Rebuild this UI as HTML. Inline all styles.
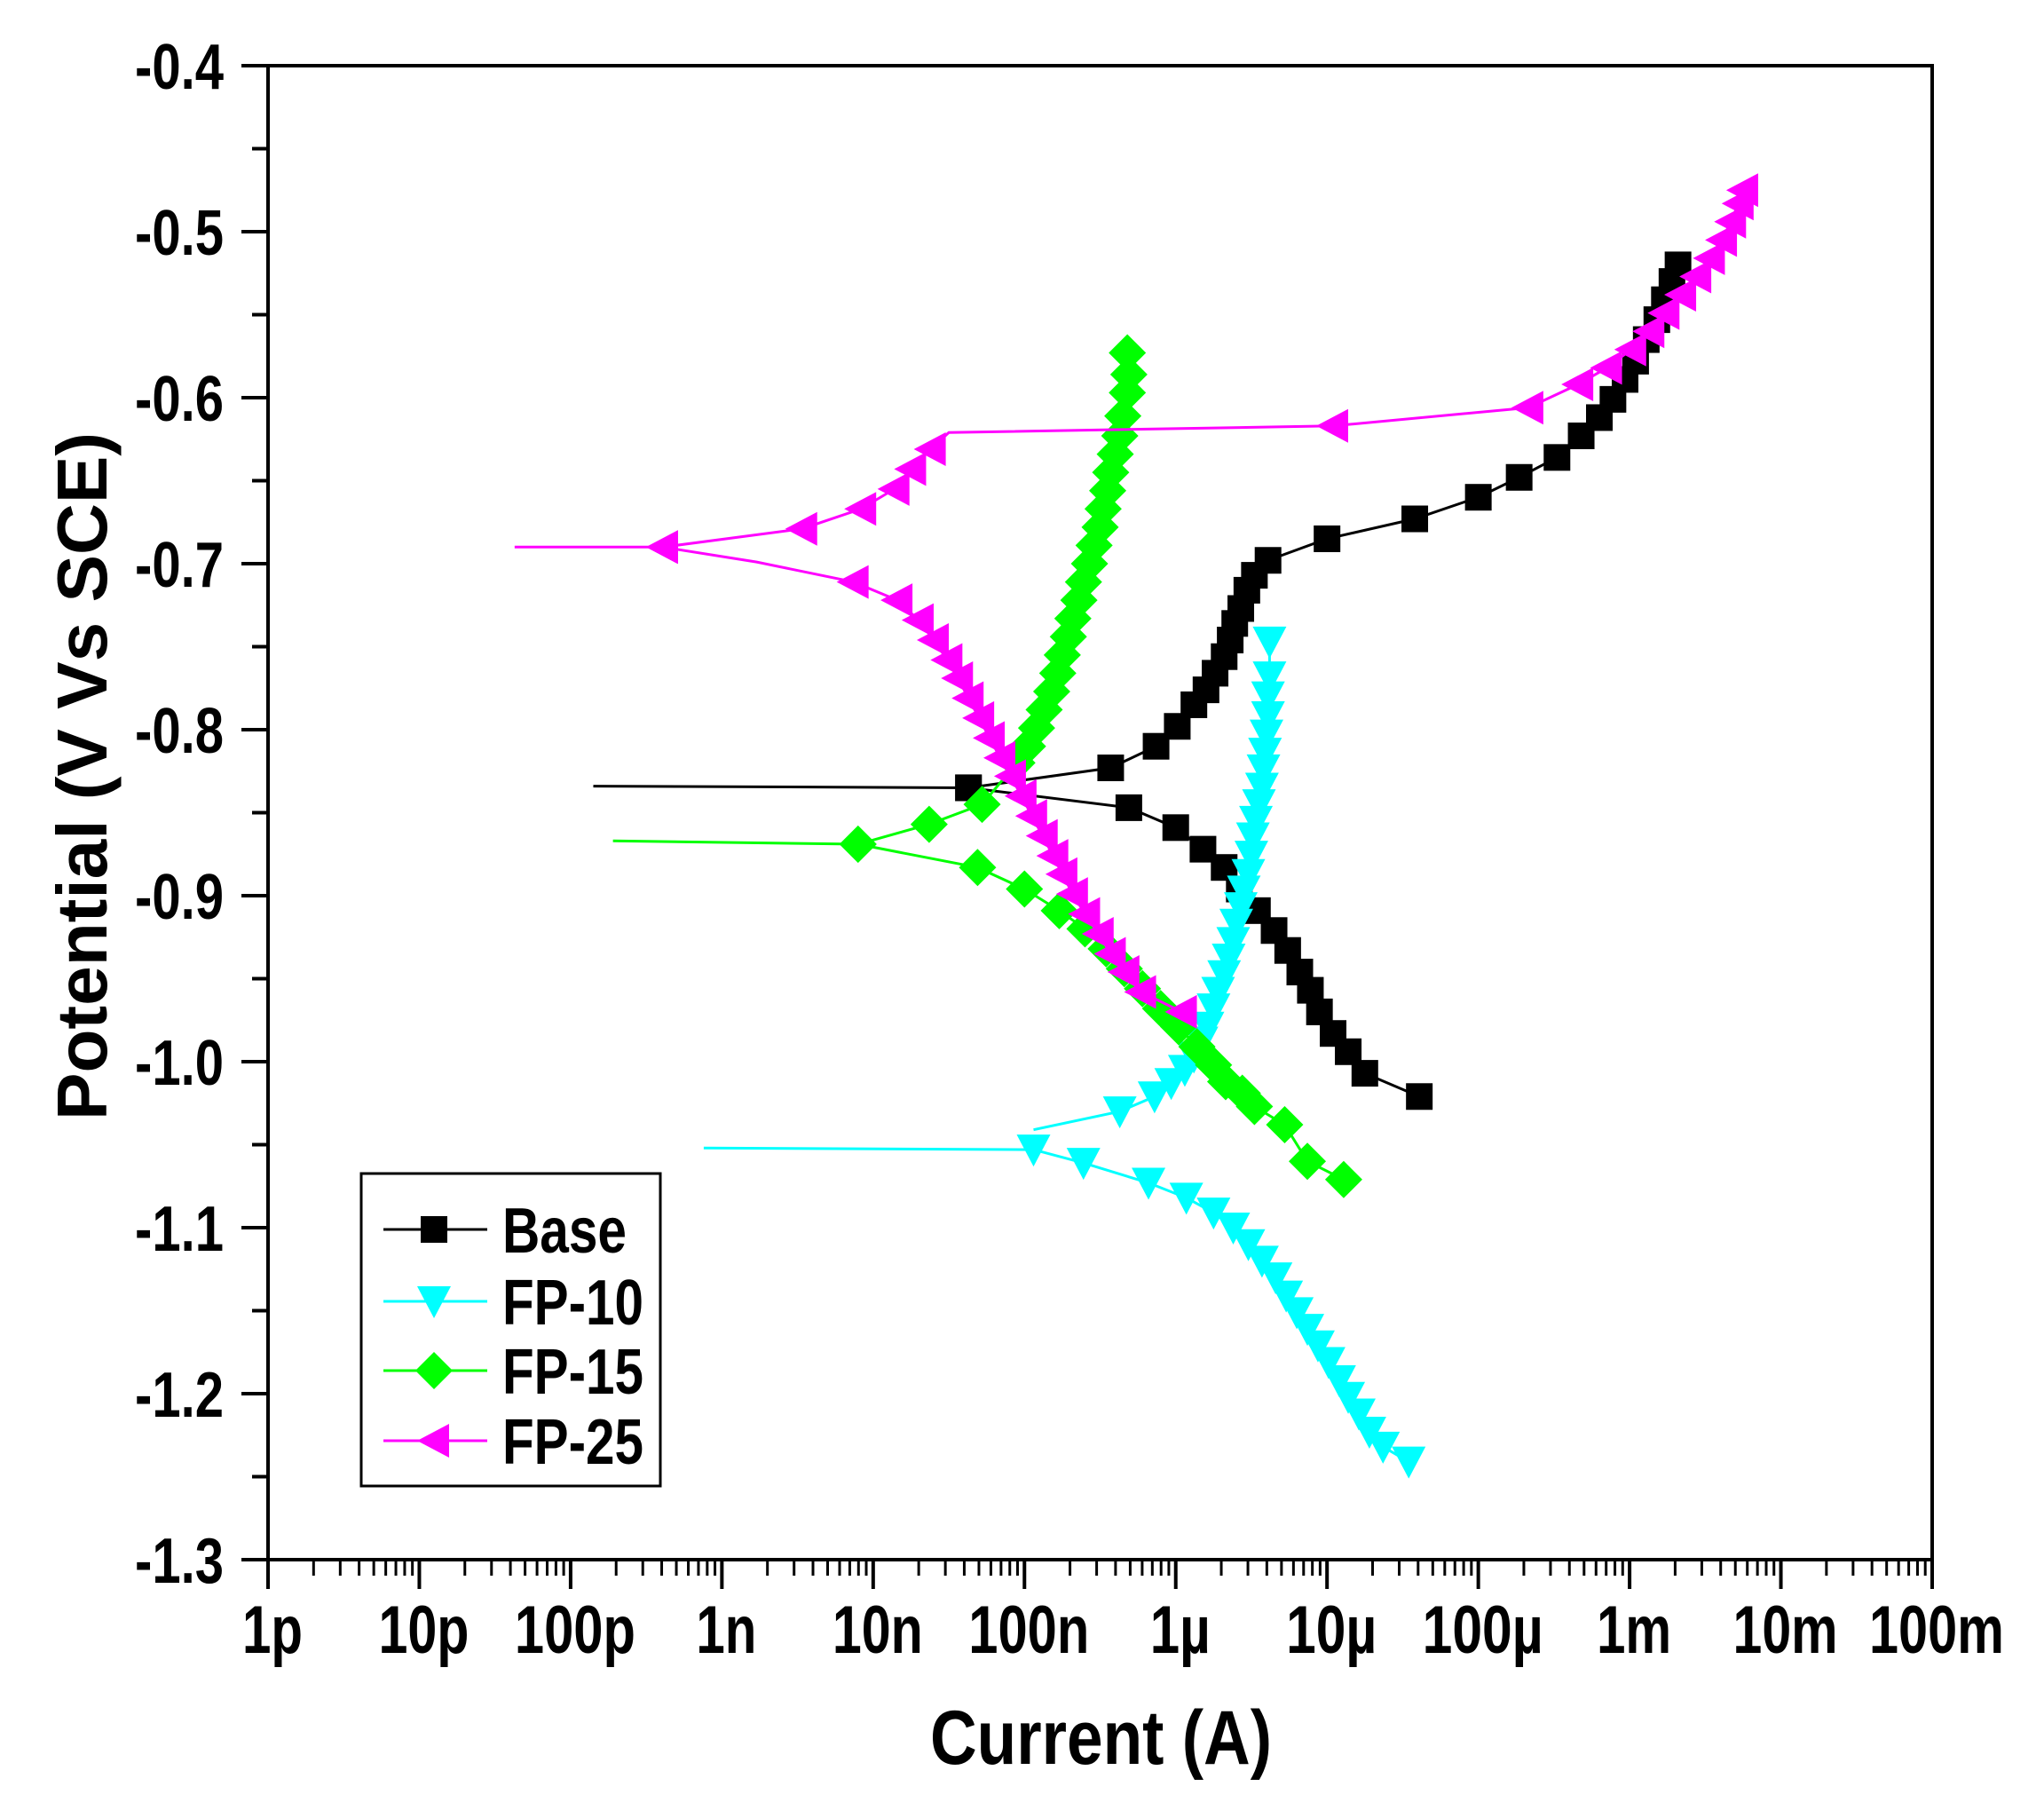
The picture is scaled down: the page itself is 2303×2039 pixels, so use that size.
<!DOCTYPE html>
<html><head><meta charset="utf-8"><style>
html,body{margin:0;padding:0;background:#fff;}
svg{display:block;}
text{font-family:"Liberation Sans",Arial,sans-serif;font-weight:bold;fill:#000;}
</style></head><body>
<svg id="chart" width="2303" height="2039" viewBox="0 0 2303 2039" xmlns="http://www.w3.org/2000/svg">
<rect x="0" y="0" width="2303" height="2039" fill="#fff"/>
<g id="axes"></g>
<g id="series"></g>
<g id="legend"></g>
<text x="1048" y="1987" font-size="86" textLength="385" lengthAdjust="spacingAndGlyphs">Current (A)</text>
<text transform="translate(120,1262) rotate(-90)" x="0" y="0" font-size="80" textLength="775" lengthAdjust="spacingAndGlyphs">Potential (V Vs SCE)</text>
</svg>
<script>
// ---- data (log10 of current in A, potential in V) ----
const xTickLabels = ["1p","10p","100p","1n","10n","100n","1µ","10µ","100µ","1m","10m","100m"];
const yTickValues = [-0.4,-0.5,-0.6,-0.7,-0.8,-0.9,-1.0,-1.1,-1.2,-1.3];
const yTickLabels = ["-0.4","-0.5","-0.6","-0.7","-0.8","-0.9","-1.0","-1.1","-1.2","-1.3"];
const seriesNames = ["Base","FP-10","FP-15","FP-25"];

const baseStartLogI = [-9.85]; const baseStartV = [-0.834];
const baseAnodicLogI = [-7.37,-6.43,-6.13,-5.99,-5.88,-5.80,-5.74,-5.68,-5.64,-5.61,-5.57,-5.53,-5.48,-5.39,-5.00,-4.42,-4.00,-3.73,-3.48,-3.32,-3.20,-3.11,-3.03,-2.96,-2.89,-2.82,-2.77,-2.72,-2.68];
const baseAnodicV = [-0.835,-0.823,-0.810,-0.798,-0.785,-0.776,-0.766,-0.756,-0.746,-0.736,-0.727,-0.716,-0.707,-0.698,-0.685,-0.673,-0.660,-0.648,-0.636,-0.623,-0.612,-0.601,-0.589,-0.578,-0.565,-0.553,-0.541,-0.530,-0.520];
const baseCathodicLogI = [-7.37,-6.31,-6.00,-5.82,-5.68,-5.58,-5.46,-5.35,-5.26,-5.18,-5.11,-5.05,-4.96,-4.86,-4.75,-4.39];
const baseCathodicV = [-0.835,-0.847,-0.859,-0.872,-0.883,-0.896,-0.909,-0.921,-0.933,-0.946,-0.957,-0.970,-0.983,-0.994,-1.007,-1.021];

const fp10StartLogI = [-9.12]; const fp10StartV = [-1.052];
const fp10CathodicLogI = [-6.94,-6.61,-6.18,-5.93,-5.75,-5.62,-5.52,-5.43,-5.34,-5.27,-5.20,-5.13,-5.06,-4.99,-4.92,-4.86,-4.79,-4.72,-4.63,-4.46];
const fp10CathodicV = [-1.053,-1.061,-1.073,-1.082,-1.091,-1.100,-1.110,-1.120,-1.130,-1.141,-1.151,-1.161,-1.171,-1.181,-1.192,-1.202,-1.212,-1.223,-1.232,-1.241];
const fp10AnodicLogI = [-6.94,-6.37,-6.14,-6.03,-5.94,-5.88,-5.83,-5.79,-5.75,-5.72,-5.68,-5.65,-5.62,-5.60,-5.57,-5.55,-5.52,-5.50,-5.49,-5.47,-5.45,-5.43,-5.42,-5.41,-5.40,-5.39,-5.39,-5.38,-5.38];
const fp10AnodicV = [-1.041,-1.030,-1.021,-1.013,-1.005,-0.997,-0.988,-0.979,-0.968,-0.958,-0.948,-0.938,-0.928,-0.917,-0.907,-0.897,-0.887,-0.876,-0.865,-0.855,-0.845,-0.835,-0.824,-0.814,-0.803,-0.792,-0.780,-0.768,-0.747];

const fp15StartLogI = [-9.72]; const fp15StartV = [-0.867];
const fp15CathodicLogI = [-8.10,-7.31,-7.00,-6.77,-6.60,-6.46,-6.34,-6.22,-6.10,-5.98,-5.86,-5.75,-5.67,-5.56,-5.48,-5.28,-5.13,-4.89];
const fp15CathodicV = [-0.869,-0.883,-0.896,-0.909,-0.920,-0.932,-0.944,-0.956,-0.968,-0.979,-0.991,-1.002,-1.012,-1.019,-1.027,-1.038,-1.060,-1.071];
const fp15AnodicLogI = [-8.10,-7.63,-7.28,-7.05,-6.98,-6.92,-6.87,-6.82,-6.78,-6.75,-6.71,-6.68,-6.64,-6.61,-6.57,-6.54,-6.50,-6.48,-6.45,-6.43,-6.40,-6.37,-6.35,-6.32,-6.31,-6.32];
const fp15AnodicV = [-0.869,-0.857,-0.845,-0.820,-0.810,-0.799,-0.788,-0.777,-0.766,-0.755,-0.744,-0.733,-0.722,-0.711,-0.700,-0.689,-0.678,-0.667,-0.656,-0.645,-0.634,-0.623,-0.611,-0.597,-0.586,-0.573];

const fp25StartLogI = [-10.37]; const fp25StartV = [-0.690];
const fp25AnodicLogI = [-9.39,-8.47,-8.08,-7.86,-7.75,-7.62,-7.50,-4.96,-3.67,-3.34,-3.15,-2.99,-2.87,-2.77,-2.66,-2.56,-2.47,-2.39,-2.33,-2.28,-2.25];
const fp25AnodicV = [-0.690,-0.679,-0.667,-0.655,-0.643,-0.631,-0.621,-0.617,-0.606,-0.592,-0.582,-0.571,-0.560,-0.549,-0.538,-0.527,-0.516,-0.505,-0.494,-0.483,-0.475];
const fp25AnodicMarked = [1,1,1,1,1,1,0,1,1,1,1,1,1,1,1,1,1,1,1,1,1];
const fp25CathodicLogI = [-9.39,-8.77,-8.13,-7.84,-7.70,-7.60,-7.51,-7.44,-7.37,-7.30,-7.23,-7.16,-7.09,-7.02,-6.95,-6.88,-6.81,-6.75,-6.68,-6.60,-6.51,-6.43,-6.34,-6.23,-5.96];
const fp25CathodicV = [-0.690,-0.699,-0.711,-0.722,-0.734,-0.746,-0.758,-0.769,-0.781,-0.793,-0.805,-0.817,-0.828,-0.840,-0.852,-0.864,-0.876,-0.887,-0.899,-0.911,-0.923,-0.935,-0.946,-0.958,-0.970];
const fp25CathodicMarked = [1,0,1,1,1,1,1,1,1,1,1,1,1,1,1,1,1,1,1,1,1,1,1,1,1];

// ---- axes ----
const X0=302, X1=2177, Y0=74, Y1=1757;
const LOGMIN=-12, LOGMAX=-1, VTOP=-0.4, VBOT=-1.3;
function xs(l){return X0+(l-LOGMIN)/(LOGMAX-LOGMIN)*(X1-X0);}
function ys(v){return Y0+(VTOP-v)/(VTOP-VBOT)*(Y1-Y0);}
const NS="http://www.w3.org/2000/svg";
function mk(tag,attrs,parent){const e=document.createElementNS(NS,tag);for(const k in attrs)e.setAttribute(k,attrs[k]);parent.appendChild(e);return e;}

const axes=document.getElementById('axes');
const frame=mk('rect',{x:X0,y:Y0,width:X1-X0,height:Y1-Y0,fill:'none',stroke:'#000','stroke-width':4},axes);


// y ticks
yTickValues.forEach((v,i)=>{
  const y=ys(v);
  const t=mk('line',{x1:X0-30,x2:X0,y1:y,y2:y,stroke:'#000','stroke-width':4},axes);
  
  
  if(i<yTickValues.length-1){
    const ym=ys(v-0.05);
    const m=mk('line',{x1:X0-18,x2:X0,y1:ym,y2:ym,stroke:'#000','stroke-width':4},axes);
    
    
  }
  const lab=mk('text',{x:252,y:y+26,'font-size':72,'text-anchor':'end'},axes);
  lab.textContent=yTickLabels[i];
  
  
  lab.setAttribute('textLength',yTickLabels[i].length*25);
  lab.setAttribute('lengthAdjust','spacingAndGlyphs');
});
// x ticks
xTickLabels.forEach((s,i)=>{
  const l=LOGMIN+i, x=xs(l);
  const t=mk('line',{x1:x,x2:x,y1:Y1,y2:Y1+33,stroke:'#000','stroke-width':4},axes);
  
  
  if(i<xTickLabels.length-1){
    for(let k=2;k<=9;k++){
      const xm=xs(l+Math.log10(k));
      const m=mk('line',{x1:xm,x2:xm,y1:Y1,y2:Y1+18,stroke:'#000','stroke-width':3},axes);
      
      
    }
  }
  const lab=mk('text',{x:x+5,y:1862,'font-size':76,'text-anchor':'middle'},axes);
  lab.textContent=s;
  
  
  let w=0; for(const c of s) w += (c==='m'?50:34);
  lab.setAttribute('textLength',w);
  lab.setAttribute('lengthAdjust','spacingAndGlyphs');
});

// ---- markers ----
function marker(type,cx,cy,color,parent){
  let e;
  if(type==='square') e=mk('rect',{x:cx-15,y:cy-15,width:30,height:30,fill:color},parent);
  else if(type==='down') e=mk('polygon',{points:`${cx-19},${cy-17} ${cx+19},${cy-17} ${cx},${cy+19}`,fill:color},parent);
  else if(type==='diamond') e=mk('polygon',{points:`${cx},${cy-21} ${cx+21},${cy} ${cx},${cy+21} ${cx-21},${cy}`,fill:color},parent);
  else e=mk('polygon',{points:`${cx-19},${cy} ${cx+17},${cy-19} ${cx+17},${cy+19}`,fill:color},parent);
  return e;
}
const sg=document.getElementById('series');
function drawBranch(name,logs,vs,marked,color,type,start){
  const g=mk('g',{},sg);
  
  
  let pts=[];
  if(start) pts.push([xs(start[0]),ys(start[1])]);
  logs.forEach((l,i)=>pts.push([xs(l),ys(vs[i])]));
  const pl=mk('polyline',{points:pts.map(p=>p.join(',')).join(' '),fill:'none',stroke:color,'stroke-width':3},g);
  
  
  logs.forEach((l,i)=>{
    if(marked && !marked[i]) return;
    const m=marker(type,xs(l),ys(vs[i]),color,g);
    
    
  });
}
drawBranch('base-anodic',baseAnodicLogI,baseAnodicV,null,'#000','square',[baseStartLogI[0],baseStartV[0]]);
drawBranch('base-cathodic',baseCathodicLogI,baseCathodicV,null,'#000','square',null);
drawBranch('fp10-cathodic',fp10CathodicLogI,fp10CathodicV,null,'#00ffff','down',[fp10StartLogI[0],fp10StartV[0]]);
drawBranch('fp10-anodic',fp10AnodicLogI,fp10AnodicV,fp10AnodicLogI.map((_,i)=>i>0?1:0),'#00ffff','down',null);
drawBranch('fp15-cathodic',fp15CathodicLogI,fp15CathodicV,null,'#00ff00','diamond',[fp15StartLogI[0],fp15StartV[0]]);
drawBranch('fp15-anodic',fp15AnodicLogI,fp15AnodicV,null,'#00ff00','diamond',null);
drawBranch('fp25-anodic',fp25AnodicLogI,fp25AnodicV,fp25AnodicMarked,'#ff00ff','left',[fp25StartLogI[0],fp25StartV[0]]);
drawBranch('fp25-cathodic',fp25CathodicLogI,fp25CathodicV,fp25CathodicMarked,'#ff00ff','left',null);

// ---- legend ----
const lg=document.getElementById('legend');
const lbox=mk('rect',{x:407,y:1322,width:337,height:352,fill:'#fff',stroke:'#000','stroke-width':3},lg);


const lColors=['#000','#00ffff','#00ff00','#ff00ff'];
const lTypes=['square','down','diamond','left'];
const lY=[1385,1466,1544,1623];
const lW=[140,159,159,159];
seriesNames.forEach((n,i)=>{
  const g=mk('g',{},lg);
  
  
  mk('line',{x1:432,x2:549,y1:lY[i],y2:lY[i],stroke:lColors[i],'stroke-width':3},g);
  marker(lTypes[i],489,lY[i],lColors[i],g);
  const t=mk('text',{x:566,y:lY[i]+26,'font-size':72,textLength:lW[i],lengthAdjust:'spacingAndGlyphs'},g);
  t.textContent=n;
});
</script>
</body></html>
